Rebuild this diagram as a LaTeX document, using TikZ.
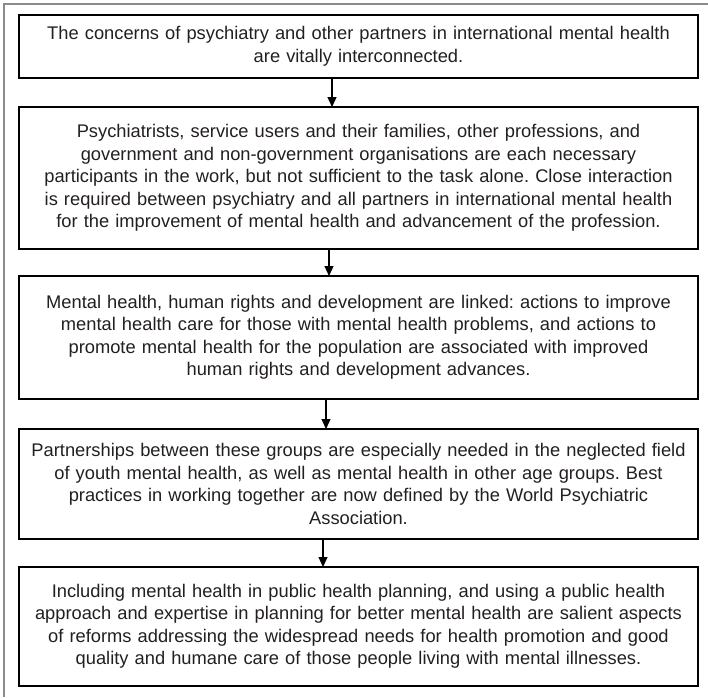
\documentclass[tikz,border=0pt]{standalone}
\usepackage{fontspec}
\setmainfont{Liberation Sans}
\usepackage{tikz}
\usetikzlibrary{arrows.meta, positioning}

\definecolor{inktext}{RGB}{35,31,32}
\definecolor{framegray}{RGB}{140,140,140}

\begin{document}
\frenchspacing
\begin{tikzpicture}[>={Triangle[width=9pt,length=10pt]}, x=1pt, y=1pt]
            % Blocks
            \tikzstyle{block} = [rectangle, draw, line width=1.4pt, outer sep=0pt, inner xsep=4.5pt, inner ysep=0pt,
                text width=670pt, align=center, text=inktext, font=\fontsize{18.3}{22.5}\selectfont]

            \useasboundingbox (0,0) rectangle (708,-697);

            % Page frame
            \draw[framegray, line width=1.2pt] (4,-697) -- (4,-4) -- (708,-4);

            \node[block, minimum height=63pt] (concerns) at (358.5,-46.5)
                {The concerns of psychiatry and other partners in international mental health \\
                 are vitally interconnected.};
            \node[block, minimum height=142pt, below=29pt of concerns] (partners)
                {Psychiatrists, service users and their families, other professions, and \\
                 government and non-government organisations are each necessary \\
                 participants in the work, but not sufficient to the task alone. Close interaction \\
                 is required between psychiatry and all partners in international mental health \\
                 for the improvement of mental health and advancement of the profession.};
            \node[block, minimum height=123pt, below=27pt of partners] (rights)
                {Mental health, human rights and development are linked: actions to improve \\
                 mental health care for those with mental health problems, and actions to \\
                 promote mental health for the population are associated with improved \\
                 human rights and development advances.};
            \node[block, minimum height=110pt, below=30pt of rights] (youth)
                {Partnerships between these groups are especially needed in the neglected field \\
                 of youth mental health, as well as mental health in other age groups. Best \\
                 practices in working together are now defined by the World Psychiatric \\
                 Association.};
            \node[block, minimum height=119pt, below=28pt of youth] (publichealth)
                {Including mental health in public health planning, and using a public health \\
                 approach and expertise in planning for better mental health are salient aspects \\
                 of reforms addressing the widespread needs for health promotion and good \\
                 quality and humane care of those people living with mental illnesses.};

            % Arrows
            \draw[->, line width=1.2pt] ([xshift=-26.5pt]concerns.south) -- ([xshift=-26.5pt]partners.north);
            \draw[->, line width=1.2pt] ([xshift=-29.5pt]partners.south) -- ([xshift=-29.5pt]rights.north);
            \draw[->, line width=1.2pt] ([xshift=-32.5pt]rights.south) -- ([xshift=-32.5pt]youth.north);
            \draw[->, line width=1.2pt] ([xshift=-35.5pt]youth.south) -- ([xshift=-35.5pt]publichealth.north);
        \end{tikzpicture}
\end{document}
